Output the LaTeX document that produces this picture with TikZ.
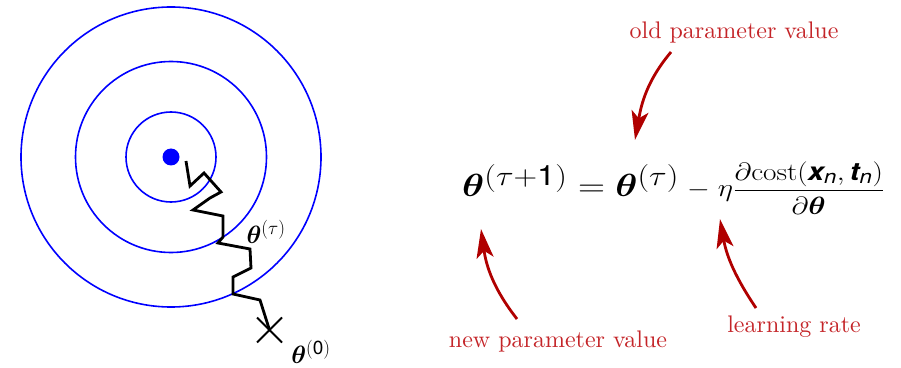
\RequirePackage{fix-cm}
\documentclass[tikz,border=0pt]{standalone}
\usepackage{amsmath, amssymb}
\usepackage{bm}
\usepackage{graphicx}
\usepackage{fontspec}
\newfontfamily\heros{TeX Gyre Heros}
\newfontfamily\notefont{lmroman10-regular.otf}
\usepackage{xcolor}
\usepackage{tikz}
\usetikzlibrary{arrows.meta, positioning, calc}
\definecolor{ringblue}{RGB}{0, 0, 255}
\definecolor{notered}{RGB}{196, 36, 40}
\definecolor{arrowred}{RGB}{176, 0, 0}
\DeclareMathSizes{32}{32}{28}{20}
\DeclareMathSizes{25}{25}{19}{13}

\begin{document}
\begin{tikzpicture}[x=1pt, y=1pt,
    ring/.style={ringblue, line width=1.6pt},
    walk/.style={black, line width=2.8pt, line join=miter},
    iterlabel/.style={font=\fontsize{25}{30}\selectfont},
    note/.style={text=notered, font=\notefont\fontsize{24}{29}\selectfont, inner sep=0pt},
    pointer/.style={arrowred, line width=2.8pt,
        -{Stealth[length=29pt, width=17pt, inset=7pt]}}]
    \useasboundingbox (0,0) rectangle (901,367);

    % Contours of the cost around the minimum
    \coordinate (Min) at (171,210);
    \draw[ring] (Min) circle (150pt);
    \draw[ring] (Min) circle (95.5pt);
    \draw[ring] (Min) circle (45pt);
    \fill[ringblue] (Min) circle (8.5pt);

    % The descent path, from the start point towards the minimum
    \foreach \x/\y [count=\i] in {186/206, 190/181, 204/194, 221/175, 210/169,
                                  193/157, 223/151, 223/130, 218/124, 250/118,
                                  251/99, 233/90, 233/73, 260/67, 269.5/37} {
        \coordinate (Step\i) at (\x,\y);
    }
    \draw[walk] (Step1) \foreach \i in {2,...,15} { -- (Step\i) };

    % Start point marked with a cross
    \draw[line width=2pt] (Step15) ++(-12.5,-12.5) -- ++(25,25)
                          (Step15) ++(-12.5,12.5) -- ++(25,-25);

    \node[iterlabel] (ThetaTau) at (266,135) {$\bm{\theta}^{(\tau)}$};
    \node[iterlabel] (ThetaZero) at (311,15) {$\bm{\theta}^{(\text{\heros 0})}$};

    % The update rule
    \node[anchor=base west, inner sep=0pt] (Update) at (462,170)
        {\scalebox{1.17}[1]{{\fontsize{32}{38}\selectfont $\bm{\theta}^{(\tau+\text{\heros 1})} = \bm{\theta}^{(\tau)}$}%
         {\fontsize{25}{30}\selectfont $\;-\;\eta\dfrac{\partial\mathrm{cost}(\text{\heros\bfseries\itshape x}_{\text{\heros\itshape n}},
          \text{\heros\bfseries\itshape t}_{\text{\heros\itshape n}})}{\partial\bm{\theta}}$}}};

    % Annotations
    \node[note, anchor=base] (OldValue) at (734,328) {old parameter value};
    \node[note, anchor=base] (NewValue) at (558,20) {new parameter value};
    \node[note, anchor=base] (Rate) at (794,35) {learning rate};

    \coordinate (OldTail) at (671,315);
    \coordinate (OldTip) at (635,227);
    \coordinate (NewTail) at (517,48);
    \coordinate (NewTip) at (481,138);
    \coordinate (RateTail) at (756,59);
    \coordinate (RateTip) at (720,148);

    \draw[pointer] (OldTail) to[out=230, in=80] (OldTip);
    \draw[pointer] (NewTail) to[out=128, in=278] (NewTip);
    \draw[pointer] (RateTail) to[out=124, in=280] (RateTip);
\end{tikzpicture}
\end{document}
